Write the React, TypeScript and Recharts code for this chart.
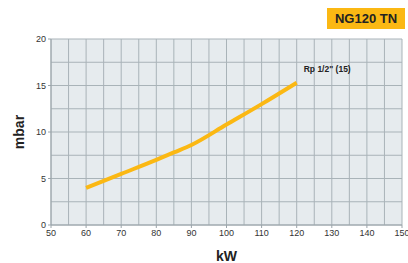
import React from 'react';
import { LineChart, Line, XAxis, YAxis, CartesianGrid, Label } from 'recharts';

const powerKw = [60, 70, 80, 85, 90, 100, 110, 120];
const pressureMbar = [4.0, 5.5, 7.0, 7.8, 8.6, 10.8, 13.0, 15.3];
const xTicks = [50, 60, 70, 80, 90, 100, 110, 120, 130, 140, 150];
const yTicks = [0, 5, 10, 15, 20];
const xGrid = [50, 55, 60, 65, 70, 75, 80, 85, 90, 95, 100, 105, 110, 115, 120, 125, 130, 135, 140, 145, 150];
const yGrid = [0, 2.5, 5, 7.5, 10, 12.5, 15, 17.5, 20];
const curveName = 'Rp 1/2" (15)';

const data = powerKw.map((kw, i) => ({ kw, mbar: pressureMbar[i] }));

const font = '"Liberation Sans", Arial, sans-serif';

const EndLabel = (props: any) => {
  const { x, y, index } = props;
  if (index !== data.length - 1) return null;
  return (
    <text x={x + 7} y={y - 11} fontSize={8.5} fontWeight="bold" fill="#222" fontFamily={font}>
      {curveName}
    </text>
  );
};

const App: React.FC = () => {
  return (
    <div style={{ position: 'absolute', left: 0, top: 0, width: 408, height: 263, background: '#fff' }}>
      <div
        style={{
          position: 'absolute',
          left: 327,
          top: 8,
          width: 78,
          height: 21,
          background: '#fbb813',
          color: '#222',
          fontFamily: font,
          fontWeight: 'bold',
          fontSize: 13,
          lineHeight: '21px',
          textAlign: 'center',
        }}
      >
        NG120 TN
      </div>
      <LineChart width={408} height={263} data={data} margin={{ top: 39, right: 6, bottom: 18, left: 31 }}>
        <CartesianGrid
          fill="#e6ebee"
          stroke="#a9b3b8"
          horizontalValues={yGrid}
          verticalValues={xGrid}
        />
        <XAxis
          dataKey="kw"
          type="number"
          domain={[50, 150]}
          ticks={xTicks}
          height={20}
          stroke="#9aa4aa"
          tickSize={3}
          tick={{ fontSize: 9, fill: '#333', fontFamily: font }}
          interval={0}
        >
          <Label value="kW" position="bottom" offset={-2} dy={8} style={{ fontSize: 14, fontWeight: 'bold', fill: '#222', fontFamily: font }} />
        </XAxis>
        <YAxis
          type="number"
          domain={[0, 20]}
          ticks={yTicks}
          width={20}
          stroke="#9aa4aa"
          tickSize={3}
          tick={{ fontSize: 9, fill: '#333', fontFamily: font }}
          interval={0}
        >
          <Label value="mbar" angle={-90} position="left" offset={0} dx={-12} style={{ fontSize: 14, fontWeight: 'bold', fill: '#222', fontFamily: font, textAnchor: 'middle' }} />
        </YAxis>
        <Line
          type="monotone"
          dataKey="mbar"
          stroke="#fbb813"
          strokeWidth={4}
          dot={false}
          isAnimationActive={false}
          label={<EndLabel />}
        />
      </LineChart>
    </div>
  );
};

export default App;
